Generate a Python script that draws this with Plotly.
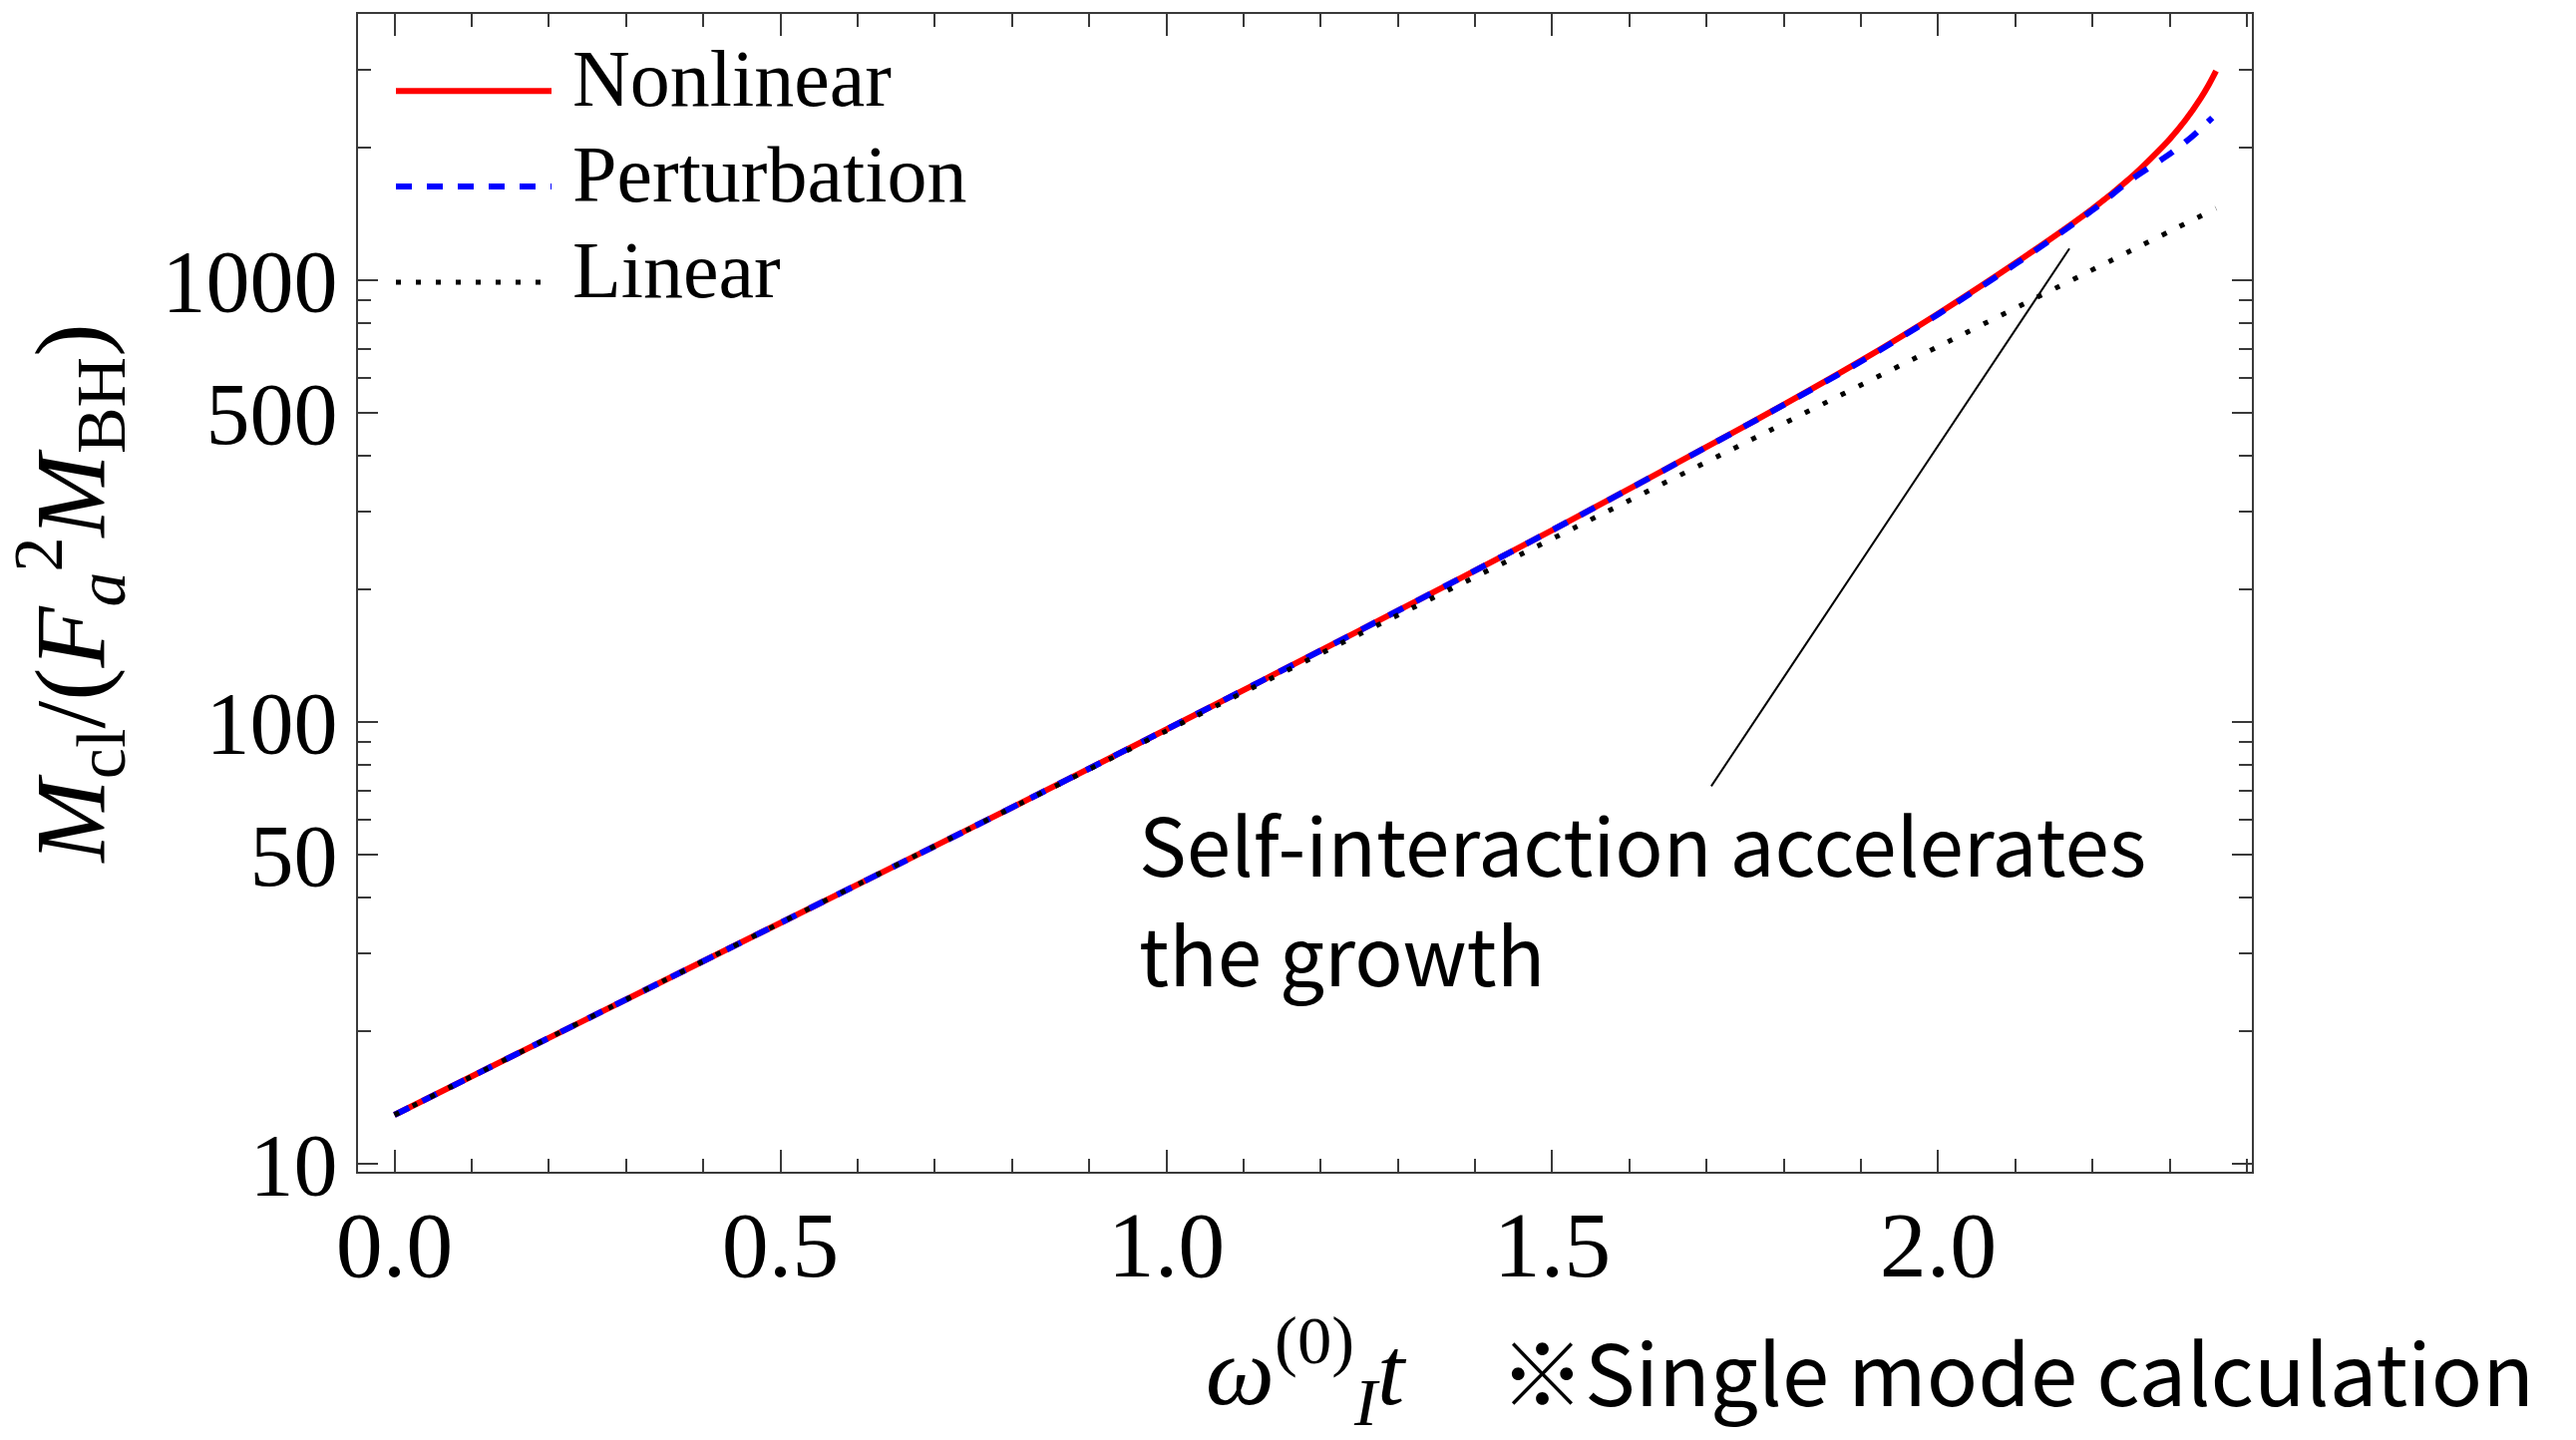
import plotly.graph_objects as go

# --- data -----------------------------------------------------------------
t_nonlinear = [0.0, 0.25, 0.5, 0.75, 1.0, 1.25, 1.5, 1.75, 1.9, 2.0, 2.1, 2.2, 2.25,
               2.275, 2.3, 2.32, 2.34, 2.35, 2.36]
m_nonlinear = [12.9, 21.3, 35.1, 57.9, 96.2, 161, 272, 468, 658, 841, 1094, 1452, 1712,
               1884, 2089, 2301, 2582, 2761, 2979]

t_perturbation = [0.0, 0.25, 0.5, 0.75, 1.0, 1.25, 1.5, 1.75, 1.9, 2.0, 2.1, 2.2, 2.25,
                  2.3, 2.33, 2.355]
m_perturbation = [12.9, 21.3, 35.1, 57.9, 96.2, 161, 272, 468, 655, 838, 1088, 1442, 1690,
                  1932, 2124, 2333]

t_linear = [0.0, 0.25, 0.5, 0.75, 1.0, 1.25, 1.5, 1.75, 2.0, 2.25, 2.36]
m_linear = [12.9, 21.3, 35.1, 57.9, 95.5, 158, 260, 429, 708, 1168, 1455]

# pointer from the note to the curves
pointer_t = [1.706, 2.170]
pointer_m = [71.6, 1180]

x_tickvals = [0.0, 0.5, 1.0, 1.5, 2.0]
x_ticktext = ["0.0", "0.5", "1.0", "1.5", "2.0"]
x_minor = [0.1, 0.2, 0.3, 0.4, 0.6, 0.7, 0.8, 0.9, 1.1, 1.2, 1.3, 1.4,
           1.6, 1.7, 1.8, 1.9, 2.1, 2.2, 2.3, 2.4]
y_tickvals = [10, 50, 100, 500, 1000]
y_ticktext = ["10", "50", "100", "500", "1000"]
y_minor = [20, 30, 40, 60, 70, 80, 90, 200, 300, 400, 600, 700, 800, 900, 2000, 3000, 4000]

series_names = ["Nonlinear", "Perturbation", "Linear"]
series_colors = ["#ff0000", "#0000ff", "#000000"]
series_dash = ["solid", "16px,15px", "5px,15px"]
series_width = [6, 6, 5]

note_lines = ["Self-interaction accelerates", "the growth"]

# --- figure ---------------------------------------------------------------
W, H = 2583, 1444
ML, MR, MT, MB = 359, 325, 13, 257
PW, PH = W - ML - MR, H - MT - MB

serif = "Liberation Serif, Times New Roman, serif"
sans = "Noto Sans CJK JP, Noto Sans, sans-serif"
axis_color = "#3a3a3a"

fig = go.Figure()
for t, m, name, c, d, w in zip(
    [t_nonlinear, t_perturbation, t_linear],
    [m_nonlinear, m_perturbation, m_linear],
    series_names, series_colors, series_dash, series_width,
):
    fig.add_trace(go.Scatter(
        x=t, y=m, name=name, mode="lines",
        line=dict(color=c, width=w, dash=d, shape="spline", smoothing=0.8),
        showlegend=False,
    ))

fig.add_trace(go.Scatter(
    x=pointer_t, y=pointer_m, mode="lines",
    line=dict(color="black", width=2), showlegend=False, hoverinfo="skip",
))


def px_x(p):
    return (p - ML) / PW


def px_y(p):
    return (H - MB - p) / PH


# hand-drawn legend: long line samples with labels
legend_rows = [91, 188, 285]
shapes = []
annotations = []
for name, c, d, w, yrow in zip(series_names, series_colors, series_dash, series_width, legend_rows):
    shapes.append(dict(
        type="line", xref="paper", yref="paper",
        x0=px_x(397), x1=px_x(553), y0=px_y(yrow), y1=px_y(yrow),
        line=dict(color=c, width=w, dash=d),
    ))
    annotations.append(dict(
        text=name, xref="paper", yref="paper",
        x=px_x(572), y=px_y(yrow - 12), xanchor="left", yanchor="middle",
        showarrow=False, font=dict(family=serif, size=80, color="black"),
    ))

# two-line note next to the pointer
for i, line in enumerate(note_lines):
    annotations.append(dict(
        text=line, xref="paper", yref="paper",
        x=px_x(1140), y=px_y(792 + 111 * i),
        xanchor="left", yanchor="top", showarrow=False,
        font=dict(family=sans, size=80, color="black"),
    ))

annotations.append(dict(
    text="※Single mode calculation",
    xref="paper", yref="paper", x=px_x(1502), y=px_y(1387),
    xanchor="left", yanchor="middle", showarrow=False,
    font=dict(family=sans, size=85, color="black"),
))

fig.update_layout(
    width=W, height=H,
    margin=dict(l=ML, r=MR, t=MT, b=MB, pad=0),
    paper_bgcolor="white", plot_bgcolor="white",
    shapes=shapes, annotations=annotations,
    showlegend=False,
)

fig.update_xaxes(
    range=[-0.0472, 2.4064],
    tickmode="array", tickvals=x_tickvals, ticktext=x_ticktext,
    ticks="inside", ticklen=22, tickwidth=2, tickcolor=axis_color,
    minor=dict(tickmode="array", tickvals=x_minor, ticks="inside",
               ticklen=13, tickwidth=2, tickcolor=axis_color, showgrid=False),
    showline=True, linecolor=axis_color, linewidth=2, mirror="ticks",
    showgrid=False, zeroline=False,
    tickfont=dict(family=serif, size=94, color="black"),
    ticklabelstandoff=-10,
    title=dict(text="<i>ω</i><sup>(0)</sup><sub><i>I</i></sub><i>t</i>",
               font=dict(family=serif, size=98, color="black"), standoff=64),
)
fig.update_yaxes(
    type="log", range=[0.982, 3.603],
    tickmode="array", tickvals=y_tickvals, ticktext=y_ticktext,
    ticks="inside", ticklen=20, tickwidth=2, tickcolor=axis_color,
    minor=dict(tickmode="array", tickvals=y_minor, ticks="inside",
               ticklen=13, tickwidth=2, tickcolor=axis_color, showgrid=False),
    showline=True, linecolor=axis_color, linewidth=2, mirror="ticks",
    showgrid=False, zeroline=False,
    tickfont=dict(family=serif, size=88, color="black"),
    ticklabelstandoff=1,
    title=dict(text="<i>M</i><sub>cl</sub>/(<i>F</i><sub><i>a</i></sub><sup>2</sup><i>M</i><sub>BH</sub>)",
               font=dict(family=serif, size=100, color="black"), standoff=40),
)

fig.write_html("out.html")
